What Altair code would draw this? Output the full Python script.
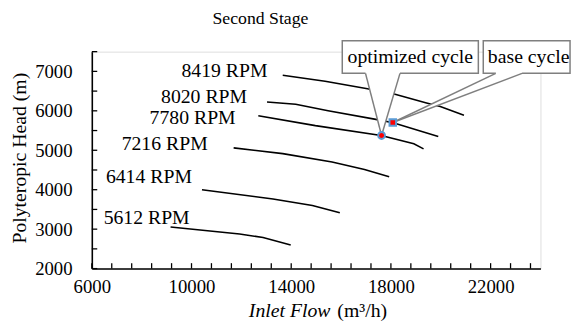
import altair as alt
import pandas as pd

# ---------------- data ----------------
rpm_names = ["8419 RPM", "8020 RPM", "7780 RPM", "7216 RPM", "6414 RPM", "5612 RPM"]

flow_8419 = [13660, 15360, 17060, 18130, 19430, 19980, 20930]
head_8419 = [6900, 6750, 6560, 6425, 6200, 6110, 5890]

flow_8020 = [13030, 14180, 15480, 17340, 18090, 19900]
head_8020 = [6225, 6165, 6000, 5790, 5700, 5350]

flow_7780 = [12680, 14970, 17610, 18920, 19310]
head_7780 = [5875, 5625, 5375, 5165, 5035]

flow_7216 = [11690, 13660, 15640, 16940, 17930]
head_7216 = [5060, 4915, 4705, 4515, 4330]

flow_6414 = [10420, 13270, 14850, 15950]
head_6414 = [4000, 3765, 3600, 3415]

flow_5612 = [9160, 11930, 12870, 13980]
head_5612 = [3055, 2875, 2790, 2600]

label_flow = [9595, 8777, 8319, 7197, 6565, 6474]
label_head = [7000, 6345, 5822, 5167, 4332, 3292]

opt_flow, opt_head = 17625, 5375
base_flow, base_head = 18075, 5705

x_tick_values = [6000, 6800, 7600, 8400, 9200, 10000, 10800, 11600, 12400, 13200, 14000,
                 14800, 15600, 16400, 17200, 18000, 18800, 19600, 20400, 21200, 22000,
                 22800, 23600]
y_tick_values = [2000, 2500, 3000, 3500, 4000, 4500, 5000, 5500, 6000, 6500, 7000, 7500]
x_label_values = [6000, 10000, 14000, 18000, 22000]
y_label_values = [2000, 3000, 4000, 5000, 6000, 7000]

title_text = "Second Stage"
y_title = "Polyteropic Head (m)"
x_title_italic = "Inlet Flow"
x_title_unit = "(m³/h)"
opt_label = "optimized cycle"
base_label = "base cycle"

# callout wedge anchors (data units)
opt_anchor_flow = [16981, 18364]
base_anchor_flow = [22207, 23262]
anchor_head = 6950
anchor_top_head = 7000

# ---------------- build tables ----------------
series = [(flow_8419, head_8419), (flow_8020, head_8020), (flow_7780, head_7780),
          (flow_7216, head_7216), (flow_6414, head_6414), (flow_5612, head_5612)]
rows = []
for name, (fl, hd) in zip(rpm_names, series):
    for i, (f, h) in enumerate(zip(fl, hd)):
        rows.append({"rpm": name, "idx": i, "flow": f, "head": h})
curve_df = pd.DataFrame(rows)

label_df = pd.DataFrame({"rpm": rpm_names, "flow": label_flow, "head": label_head})

FONT = "Liberation Serif"
GRAY = "#7f7f7f"

xscale = alt.Scale(domain=[6000, 24000], nice=False, zero=False)
yscale = alt.Scale(domain=[2000, 7500], nice=False, zero=False)

curves = alt.Chart(curve_df).mark_line(color="black", strokeWidth=1.6).encode(
    x=alt.X("flow:Q", scale=xscale, title=None,
            axis=alt.Axis(values=x_label_values, format="d", grid=False, ticks=False,
                          domainColor="black", domainWidth=1.6, labelFont=FONT,
                          labelFontSize=19, labelColor="black", labelPadding=9,
                          labelFlush=False, labelOverlap=False)),
    y=alt.Y("head:Q", scale=yscale, title=None,
            axis=alt.Axis(values=y_label_values, format="d", grid=False, ticks=False,
                          domainColor="black", domainWidth=1.6, labelFont=FONT,
                          labelFontSize=19, labelColor="black", labelPadding=20,
                          labelFlush=False, labelOverlap=False)),
    detail="rpm:N",
    order="idx:Q",
)

xticks = alt.Chart(pd.DataFrame({"t": x_tick_values})).mark_rule(
    color="black", strokeWidth=1.3).encode(
    x=alt.X("t:Q", scale=xscale, title=None),
    y=alt.value(220), y2=alt.value(214.5))

yticks = alt.Chart(pd.DataFrame({"t": y_tick_values})).mark_rule(
    color="black", strokeWidth=1.3).encode(
    y=alt.Y("t:Q", scale=yscale, title=None),
    x=alt.value(0), x2=alt.value(5.5))

labels = alt.Chart(label_df).mark_text(
    align="left", baseline="middle", font=FONT, fontSize=20, color="black").encode(
    x=alt.X("flow:Q", scale=xscale, title=None),
    y=alt.Y("head:Q", scale=yscale, title=None),
    text="rpm:N")

one = pd.DataFrame({"a": [0]})

box_opt = alt.Chart(one).mark_rect(fill="white", stroke=GRAY, strokeWidth=1.5).encode(
    x=alt.value(254), x2=alt.value(392), y=alt.value(-11), y2=alt.value(22))
box_base = alt.Chart(one).mark_rect(fill="white", stroke=GRAY, strokeWidth=1.5).encode(
    x=alt.value(397), x2=alt.value(485), y=alt.value(-11), y2=alt.value(22))

wedge_fill_df = pd.DataFrame({
    "grp": ["o", "o", "o", "b", "b", "b"],
    "h": [opt_head, anchor_head, anchor_top_head, base_head, anchor_head, anchor_top_head],
    "xa": [opt_flow, opt_anchor_flow[0], opt_anchor_flow[0],
           base_flow, base_anchor_flow[0], base_anchor_flow[0]],
    "xb": [opt_flow, opt_anchor_flow[1], opt_anchor_flow[1],
           base_flow, base_anchor_flow[1], base_anchor_flow[1]],
})
wedge_fill = alt.Chart(wedge_fill_df).mark_area(
    orient="horizontal", color="white", opacity=1).encode(
    y=alt.Y("h:Q", scale=yscale, title=None),
    x=alt.X("xa:Q", scale=xscale, title=None),
    x2="xb:Q",
    detail="grp:N")

wedge_lines_df = pd.DataFrame({
    "x": opt_anchor_flow + base_anchor_flow,
    "y": [anchor_head] * 4,
    "x2": [opt_flow, opt_flow, base_flow, base_flow],
    "y2": [opt_head, opt_head, base_head, base_head],
})
wedge_lines = alt.Chart(wedge_lines_df).mark_rule(color=GRAY, strokeWidth=1.5).encode(
    x=alt.X("x:Q", scale=xscale, title=None),
    y=alt.Y("y:Q", scale=yscale, title=None),
    x2="x2:Q", y2="y2:Q")

opt_pt = alt.Chart(pd.DataFrame({"f": [opt_flow], "h": [opt_head]})).mark_point(
    shape="circle", filled=True, fill="#ff0000", stroke="#5b9bd5", strokeWidth=2,
    size=48, opacity=1).encode(
    x=alt.X("f:Q", scale=xscale, title=None), y=alt.Y("h:Q", scale=yscale, title=None))
base_pt = alt.Chart(pd.DataFrame({"f": [base_flow], "h": [base_head]})).mark_point(
    shape="square", filled=True, fill="#ff0000", stroke="#5b9bd5", strokeWidth=2,
    size=44, opacity=1).encode(
    x=alt.X("f:Q", scale=xscale, title=None), y=alt.Y("h:Q", scale=yscale, title=None))

def txt(s, x, y, **kw):
    return alt.Chart(one).mark_text(font=FONT, color="black", **kw).encode(
        x=alt.value(x), y=alt.value(y), text=alt.value(s))

texts = [
    txt(title_text, 171, -33, fontSize=18, align="center", baseline="middle"),
    txt(y_title, -73, 108, fontSize=20, align="center", baseline="middle", angle=270),
    txt(x_title_italic, 242, 263, fontSize=20, align="right", baseline="middle",
        fontStyle="italic"),
    txt(x_title_unit, 249, 263, fontSize=20, align="left", baseline="middle"),
    txt(opt_label, 323, 5, fontSize=20, align="center", baseline="middle"),
    txt(base_label, 443, 5, fontSize=20, align="center", baseline="middle"),
]

chart = alt.layer(
    curves, xticks, yticks, labels, box_opt, box_base, wedge_fill, wedge_lines,
    opt_pt, base_pt, *texts
).properties(
    width=455, height=220,
    autosize=alt.AutoSizeParams(type="none"),
    padding={"left": 85, "top": 42, "right": 33, "bottom": 60},
).configure_view(stroke=None).configure(background="white")

chart.save("out.html", embed_options={"renderer": "svg", "actions": False})
